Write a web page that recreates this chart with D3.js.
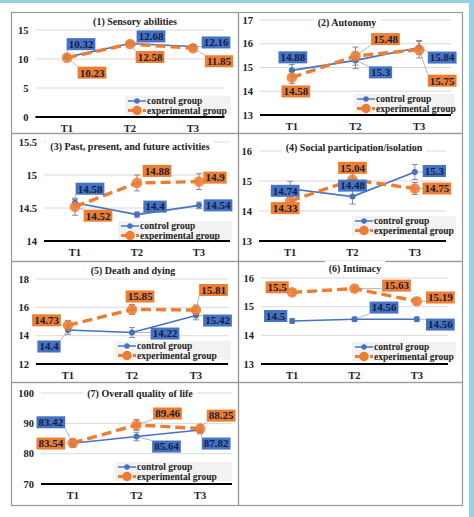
<!DOCTYPE html>
<html><head><meta charset="utf-8">
<script src="https://cdn.jsdelivr.net/npm/d3@7"></script>
<style>html,body{margin:0;padding:0;background:#fff}svg{display:block}
svg text{font-family:"Liberation Serif","DejaVu Serif","Times New Roman",serif;}</style>
</head><body>
<script>
// ---------------- DATA ----------------
const timePoints = ["T1", "T2", "T3"];
const seriesNames = ["control group", "experimental group"];
const panelTitles = [
  "(1) Sensory abilities",
  "(2) Autonomy",
  "(3) Past, present, and future activities",
  "(4) Social participation/isolation",
  "(5) Death and dying",
  "(6) Intimacy",
  "(7) Overall quality of life"
];
const controlMeans = [
  [10.32, 12.68, 12.16],
  [14.88, 15.3, 15.84],
  [14.58, 14.4, 14.54],
  [14.74, 14.48, 15.3],
  [14.4, 14.22, 15.42],
  [14.5, 14.56, 14.56],
  [83.42, 85.64, 87.82]
];
const experimentalMeans = [
  [10.23, 12.58, 11.85],
  [14.58, 15.48, 15.75],
  [14.52, 14.88, 14.9],
  [14.33, 15.04, 14.75],
  [14.73, 15.85, 15.81],
  [15.5, 15.63, 15.19],
  [83.54, 89.46, 88.25]
];
const controlErrors = [
  [0.3, 0.35, 0.3],
  [0.25, 0.35, 0.3],
  [0.05, 0.04, 0.05],
  [0.25, 0.25, 0.25],
  [0.3, 0.35, 0.3],
  [0.08, 0.08, 0.08],
  [1.3, 1.4, 1.3]
];
const experimentalErrors = [
  [0.3, 0.35, 0.35],
  [0.25, 0.38, 0.35],
  [0.13, 0.12, 0.12],
  [0.2, 0.2, 0.2],
  [0.35, 0.35, 0.35],
  [0.1, 0.1, 0.1],
  [1.3, 1.8, 1.4]
];
const yDomains = [[0, 15], [13, 17], [14, 15.5], [13, 16], [12, 18], [13, 16], [70, 100]];
const yTicks = [
  [0, 5, 10, 15],
  [13, 14, 15, 16, 17],
  [14, 14.5, 15, 15.5],
  [13, 14, 15, 16],
  [12, 14, 16, 18],
  [13, 14, 15, 16],
  [70, 80, 90, 100]
];

// ---------------- LAYOUT (positions / styles) ----------------
const W = 474, H = 517;
const BLUE = "#4472C4", ORANGE = "#ED7D31";
const frames = [
  [11, 12, 238, 133], [238, 12, 462, 133],
  [11, 133, 238, 261], [238, 133, 462, 261],
  [11, 261, 238, 382], [238, 261, 462, 382],
  [11, 382, 238, 505], [238, 382, 462, 505]
];
const plotX = [[35.5, 224.5], [260, 451], [44, 230], [259, 446], [36, 228], [261, 448], [41, 232]];
const plotY = [[117, 30], [115, 20], [241, 142], [241, 151], [364, 279], [364, 278], [484, 393]];
const titlePos = [[135, 21], [347, 22], [130, 146], [354, 147], [133, 270], [355, 268], [140, 393]];
const legendBox = [[125, 96, 106, 19], [354, 94, 101, 19], [118, 221, 114, 19], [352, 216, 104, 19],
                   [115, 341, 116, 19], [352, 342, 104, 19], [115, 462, 117, 19]];
const ctrlLabelOff = [
  [[14, -13], [21, -7], [23, -4]],
  [[1, -13], [25, 12], [23, 10]],
  [[15, -14], [18, -8], [19, 0]],
  [[-5, 2], [0, -11], [19.5, -1]],
  [[-19, 16.5], [33, 1], [21.5, 5]],
  [[-16.5, -5], [29.5, -11.7], [23.5, 5.3]],
  [[-22, -21], [30, 10], [16, 13.6]]
];
const expLabelOff = [
  [[25, 15], [20, 13], [26, 13]],
  [[4, 14], [30, -17], [23, 31]],
  [[23, 9], [20, -12], [16, -4]],
  [[-5, 7], [0, -12], [22, 0]],
  [[-21.5, -5], [8, -13], [17.5, -20]],
  [[-15, -5], [42, -3], [23.5, -3.7]],
  [[-22, 0.6], [31, -11.5], [21, -13]]
];

const svg = d3.select("body").append("svg").attr("width", W).attr("height", H);
svg.append("rect").attr("width", W).attr("height", H).attr("fill", "#fff");
svg.append("rect").attr("x", 0).attr("y", 0).attr("width", W).attr("height", 3).attr("fill", "#93D1E3");
svg.append("rect").attr("x", 469).attr("y", 0).attr("width", 5).attr("height", H).attr("fill", "#93D1E3");

frames.forEach(f => {
  svg.append("rect").attr("x", f[0] + 0.5).attr("y", f[1] + 0.5)
    .attr("width", f[2] - f[0]).attr("height", f[3] - f[1])
    .attr("fill", "none").attr("stroke", "#9a9a9a").attr("stroke-width", 1.2);
});

panelTitles.forEach((title, i) => {
  const g = svg.append("g");
  const x = d3.scalePoint().domain(timePoints).range(plotX[i]).padding(0.5);
  const y = d3.scaleLinear().domain(yDomains[i]).range(plotY[i]);

  g.selectAll(".grid").data(yTicks[i].slice(1)).join("line")
    .attr("x1", plotX[i][0]).attr("x2", plotX[i][1])
    .attr("y1", d => y(d)).attr("y2", d => y(d))
    .attr("stroke", "#d9d9d9").attr("stroke-width", 1);
  g.append("line").attr("x1", plotX[i][0]).attr("x2", plotX[i][1])
    .attr("y1", y(yDomains[i][0])).attr("y2", y(yDomains[i][0]))
    .attr("stroke", "#000").attr("stroke-width", 1.8);
  g.selectAll(".yt").data(yTicks[i]).join("text")
    .attr("x", plotX[i][0] - 7).attr("y", d => y(d)).attr("dy", "0.35em")
    .attr("text-anchor", "end").attr("font-weight", "bold")
    .attr("font-size", 10.5).attr("fill", "#222").text(d => d);
  g.selectAll(".xt").data(timePoints).join("text")
    .attr("x", d => x(d)).attr("y", y(yDomains[i][0]) + 11).attr("dy", "0.35em")
    .attr("text-anchor", "middle").attr("font-weight", "bold")
    .attr("font-size", 10.5).attr("fill", "#222").text(d => d);

  const series = [
    { vals: controlMeans[i], errs: controlErrors[i], color: BLUE, w: 1.6, r: 3, dash: null, off: ctrlLabelOff[i] },
    { vals: experimentalMeans[i], errs: experimentalErrors[i], color: ORANGE, w: 3.4, r: 5.3, dash: "10,5", off: expLabelOff[i] }
  ];
  series.forEach(s => {
    s.vals.forEach((v, j) => {
      const cx = x(timePoints[j]);
      const y1 = y(v - s.errs[j]), y2 = y(v + s.errs[j]);
      g.append("line").attr("x1", cx).attr("x2", cx).attr("y1", y1).attr("y2", y2)
        .attr("stroke", "#8c8c8c").attr("stroke-width", 1);
      [y1, y2].forEach(yy => g.append("line").attr("x1", cx - 3).attr("x2", cx + 3)
        .attr("y1", yy).attr("y2", yy).attr("stroke", "#8c8c8c").attr("stroke-width", 1));
    });
  });
  const line = d3.line().x((d, j) => x(timePoints[j])).y(d => y(d));
  series.forEach(s => {
    g.append("path").attr("d", line(s.vals)).attr("fill", "none")
      .attr("stroke", s.color).attr("stroke-width", s.w)
      .attr("stroke-dasharray", s.dash);
    g.selectAll(null).data(s.vals).join("circle")
      .attr("cx", (d, j) => x(timePoints[j])).attr("cy", d => y(d)).attr("r", s.r)
      .attr("fill", s.color).attr("fill-opacity", s.r > 4 ? 0.85 : 1);
  });
  series.forEach(s => {
    s.vals.forEach((v, j) => {
      const px = x(timePoints[j]), py = y(v);
      const cx = px + s.off[j][0], cy = py + s.off[j][1];
      const t = g.append("text").attr("x", cx).attr("y", cy).attr("dy", "0.35em")
        .attr("text-anchor", "middle").attr("font-weight", "bold")
        .attr("font-size", 11).attr("fill", "#14213d").text(v);
      const tw = t.node().getComputedTextLength();
      const bw = tw + 4, bh = 12;
      const nx = Math.max(cx - bw / 2, Math.min(px, cx + bw / 2));
      const ny = Math.max(cy - bh / 2, Math.min(py, cy + bh / 2));
      if (Math.hypot(nx - px, ny - py) > 5) {
        g.insert("line", "text").attr("x1", px).attr("y1", py).attr("x2", nx).attr("y2", ny)
          .attr("stroke", "#a6a6a6").attr("stroke-width", 0.8);
      }
      g.insert("rect", () => t.node()).attr("x", cx - bw / 2).attr("y", cy - bh / 2)
        .attr("width", bw).attr("height", bh).attr("fill", s.color);
    });
  });
  const lb = legendBox[i];
  const lg = g.append("g");
  lg.append("rect").attr("x", lb[0]).attr("y", lb[1]).attr("width", lb[2]).attr("height", lb[3])
    .attr("fill", "#f2f2f2");
  series.forEach((s, k) => {
    const ly = lb[1] + 5 + k * 9.5;
    lg.append("line").attr("x1", lb[0] + 3).attr("x2", lb[0] + 21).attr("y1", ly).attr("y2", ly)
      .attr("stroke", s.color).attr("stroke-width", s.w * 0.9).attr("stroke-dasharray", s.dash ? "5,2.5" : null);
    lg.append("circle").attr("cx", lb[0] + 12).attr("cy", ly).attr("r", s.r * 0.9).attr("fill", s.color);
    lg.append("text").attr("x", lb[0] + 22).attr("y", ly).attr("dy", "0.35em")
      .attr("font-weight", "bold").attr("font-size", 9.5)
      .attr("fill", "#222").text(seriesNames[k]);
  });
  const tp = titlePos[i];
  const tt = g.append("text").attr("x", tp[0]).attr("y", tp[1]).attr("dy", "0.35em")
    .attr("text-anchor", "middle").attr("font-weight", "bold")
    .attr("font-size", 10).attr("fill", "#222").text(title);
  const tw = tt.node().getComputedTextLength();
  g.insert("rect", () => tt.node()).attr("x", tp[0] - tw / 2 - 4).attr("y", tp[1] - 7)
    .attr("width", tw + 8).attr("height", 14).attr("fill", "#fff");
});
</script>
</body></html>
